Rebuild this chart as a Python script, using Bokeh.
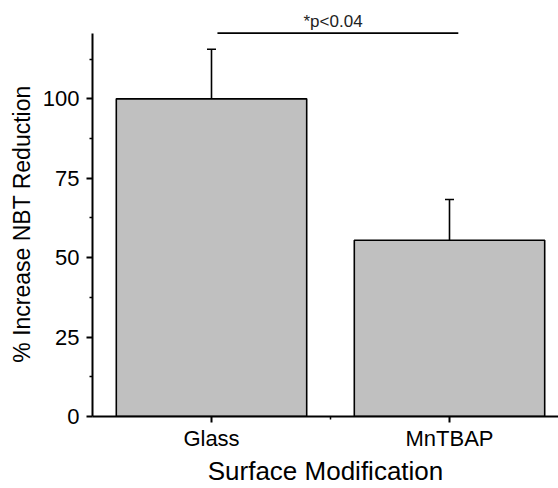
from bokeh.plotting import figure
from bokeh.models import ColumnDataSource, FixedTicker, Whisker, TeeHead, Arrow, Title, Range1d
from bokeh.embed import file_html
from bokeh.resources import INLINE

# ---- data ----
categories = ["Glass", "MnTBAP"]
values = [100.0, 55.5]
errors = [15.6, 12.8]
y_ticks = [0, 25, 50, 75, 100]
y_minor_ticks = [12.5, 37.5, 62.5, 87.5, 112.5]
y_axis_top = 120.5
sig_text = "*p<0.04"
sig_level = 120.7
x_label = "Surface Modification"
y_label = "% Increase NBT Reduction"

xs = list(range(1, len(categories) + 1))
upper = [v + e for v, e in zip(values, errors)]
src = ColumnDataSource(dict(x=xs, top=values, upper=upper, cat=categories))

FONT = "Liberation Sans"

p = figure(width=558, height=488, output_backend="svg", toolbar_location=None,
           x_range=Range1d(0.5, 2.458), y_range=Range1d(0, 121.2),
           min_border_left=92, min_border_right=0, min_border_top=31, min_border_bottom=71)
p.outline_line_color = None
p.grid.visible = False
p.background_fill_color = "white"
p.border_fill_color = "white"

p.vbar(x="x", top="top", bottom=0, width=0.8, source=src,
       fill_color="#C0C0C0", line_color="black", line_width=1.6)

wh = Whisker(source=src, base="x", upper="upper", lower="top", dimension="height",
             line_color="black", line_width=1.6,
             upper_head=TeeHead(size=9, line_width=1.6, line_color="black"), lower_head=None)
wh.level = "overlay"
p.add_layout(wh)

sig_line = Arrow(x_start=xs[0] + 0.025, y_start=sig_level, x_end=xs[1] + 0.037, y_end=sig_level,
                 end=None, line_color="black", line_width=1.6)
p.add_layout(sig_line)

sig_title = Title(text=sig_text, align="left", offset=211, standoff=2,
                  text_font=FONT, text_font_size="17px", text_font_style="normal",
                  text_color="#222222")
p.add_layout(sig_title, "above")

for ax in (p.xaxis[0], p.yaxis[0]):
    ax.axis_line_width = 2
    ax.axis_line_color = "black"
    ax.major_tick_line_width = 2
    ax.minor_tick_line_width = 1.5
    ax.major_tick_in = 0
    ax.major_tick_out = 6
    ax.minor_tick_in = 0
    ax.minor_tick_out = 3
    ax.major_label_text_font = FONT
    ax.major_label_text_font_size = "22px"
    ax.major_label_text_color = "black"
    ax.axis_label_text_font = FONT
    ax.axis_label_text_font_style = "normal"
    ax.axis_label_text_color = "black"

p.xaxis.ticker = FixedTicker(ticks=xs, minor_ticks=[(xs[0] + xs[1]) / 2])
p.xaxis.major_label_overrides = {x: c for x, c in zip(xs, categories)}
p.xaxis.axis_label = x_label
p.xaxis.axis_label_text_font_size = "26px"
p.xaxis.major_label_standoff = 3
p.xaxis.axis_label_standoff = 2

p.yaxis.ticker = FixedTicker(ticks=y_ticks, minor_ticks=y_minor_ticks)
p.yaxis.bounds = (0, y_axis_top)
p.yaxis.axis_label = y_label
p.yaxis.axis_label_text_font_size = "23px"
p.yaxis.major_label_standoff = 7
p.yaxis.axis_label_standoff = 5

open("out.html", "w").write(file_html(p, INLINE))
